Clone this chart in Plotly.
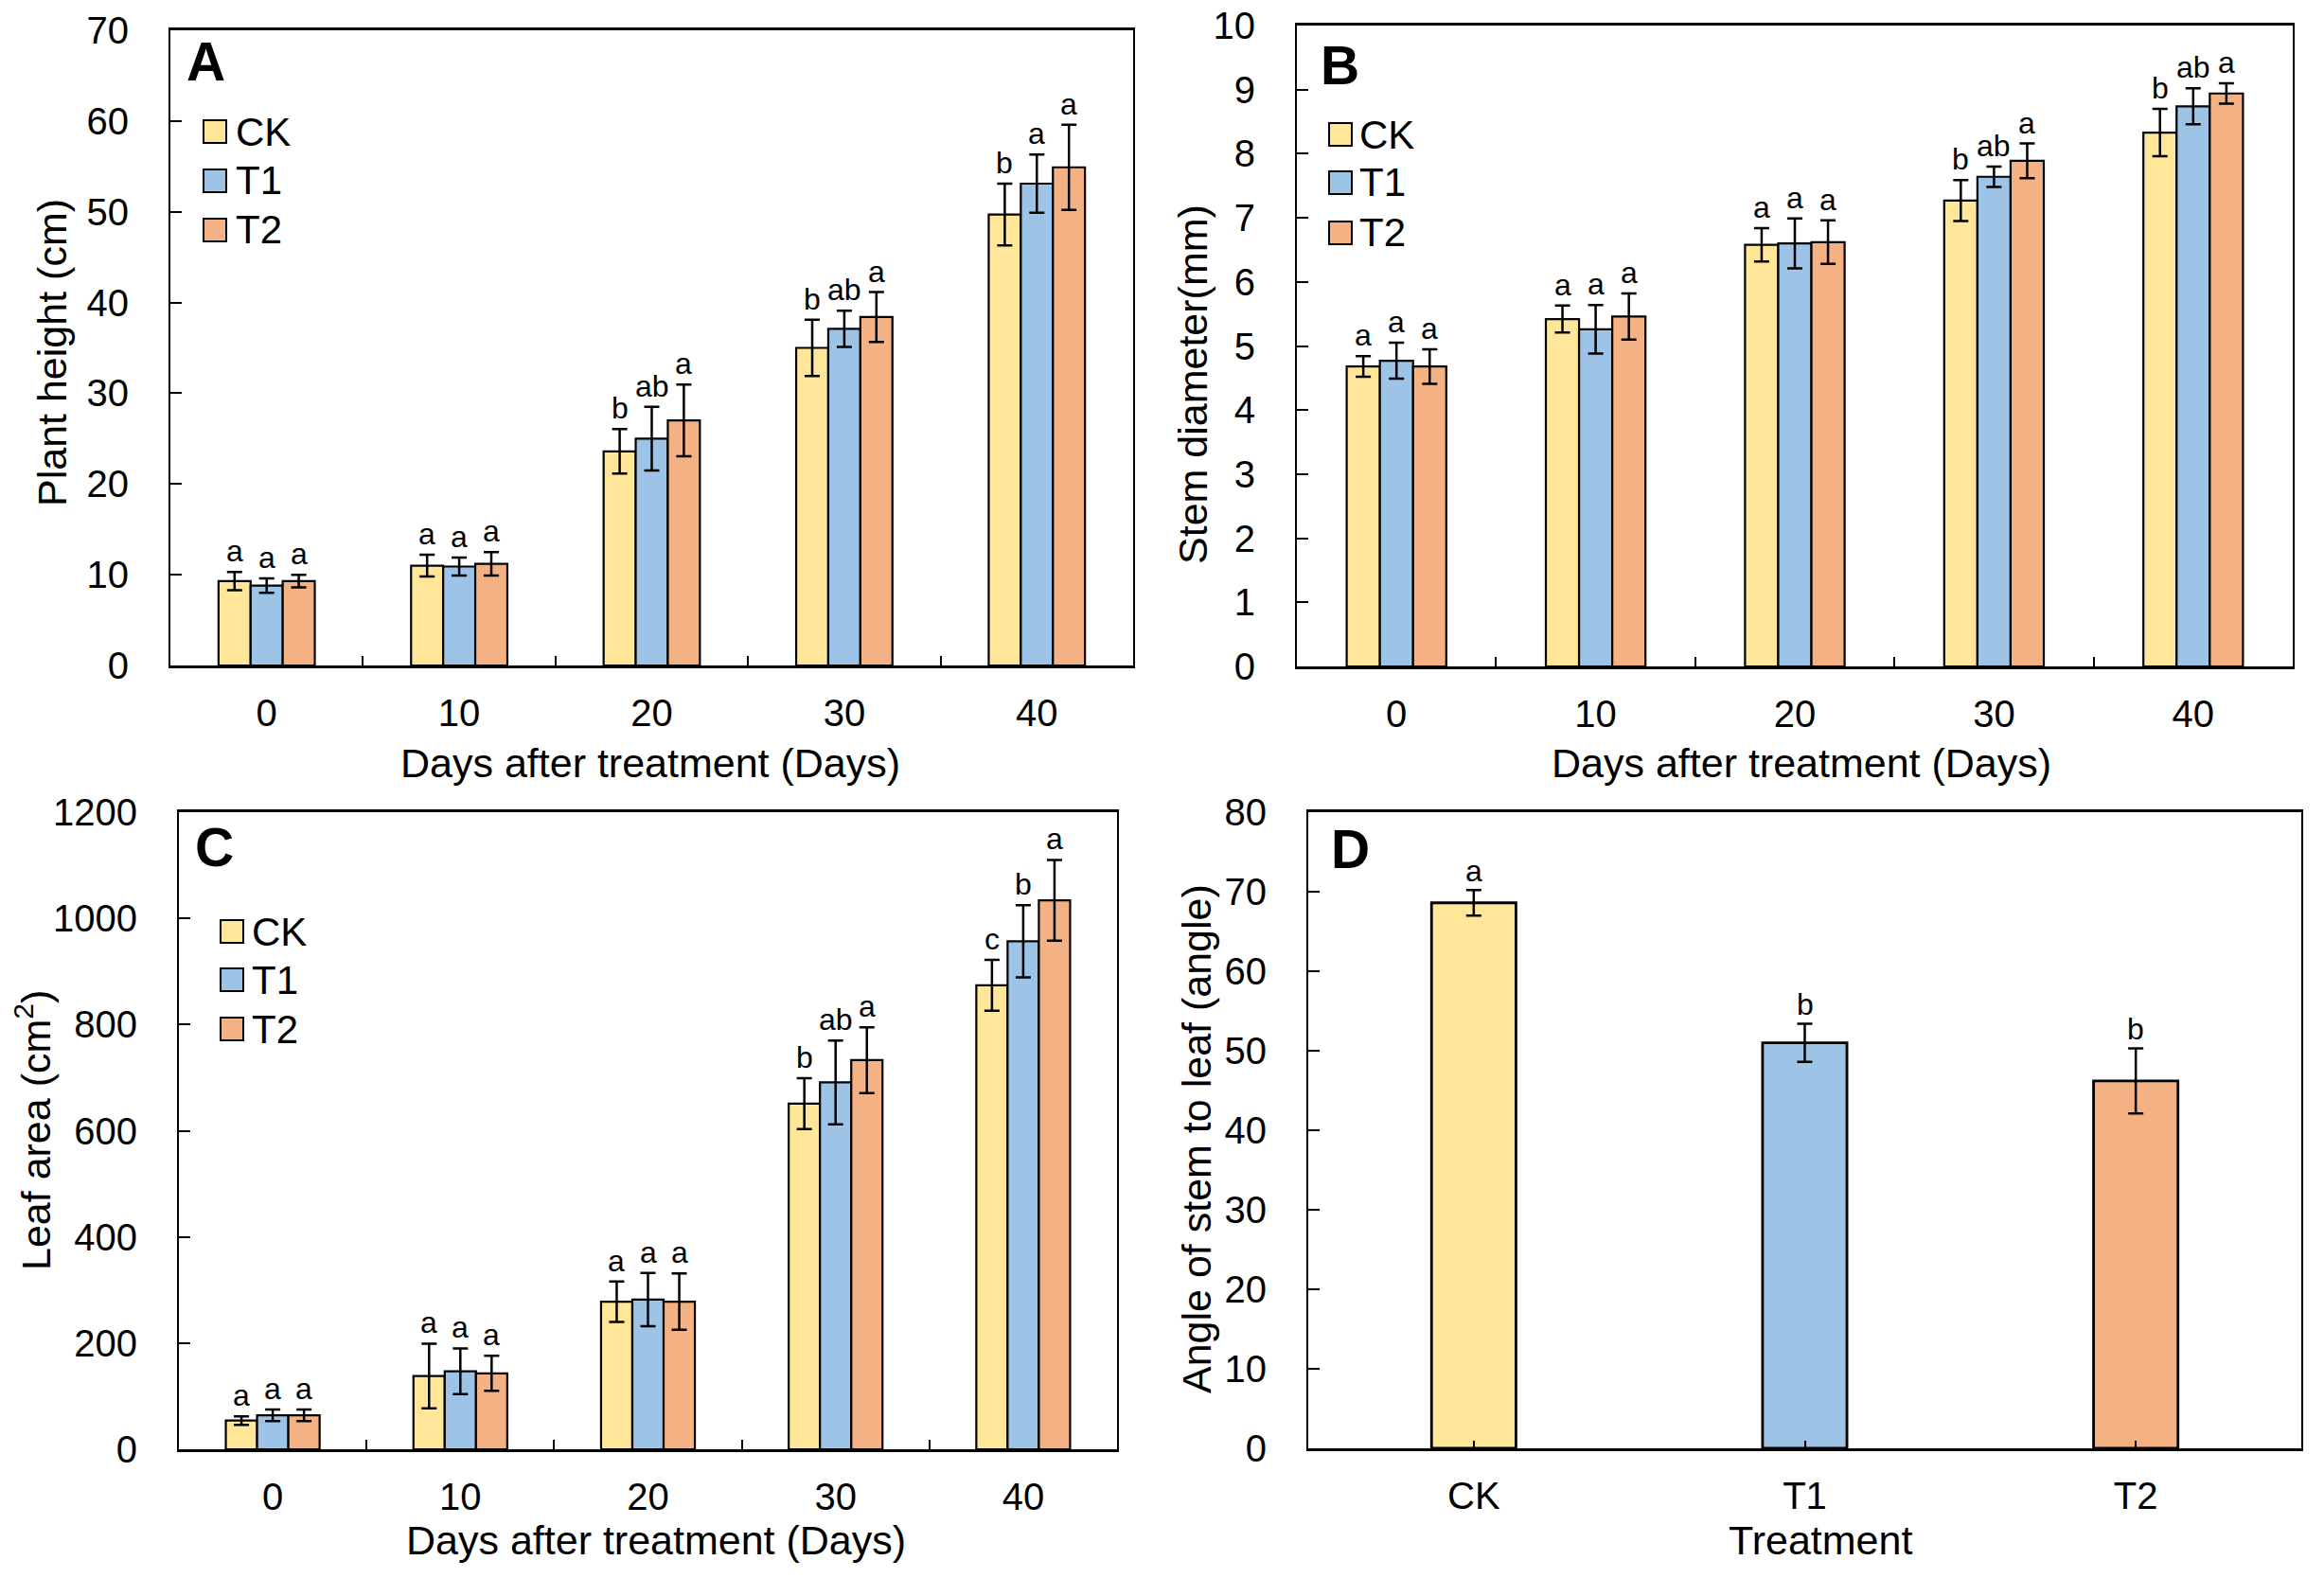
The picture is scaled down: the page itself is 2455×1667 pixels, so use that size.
import plotly.graph_objects as go

W, H = 2455, 1667

# ---------------- data ----------------
days = ["0", "10", "20", "30", "40"]
treatments = ["CK", "T1", "T2"]
colors = ["#FFE699", "#9DC3E6", "#F4B183"]

height_ck = [9.3, 11.0, 23.6, 35.0, 49.7]
height_t1 = [8.8, 10.9, 25.0, 37.1, 53.1]
height_t2 = [9.3, 11.2, 27.0, 38.4, 54.9]
height_err_ck = [1.0, 1.2, 2.45, 3.1, 3.4]
height_err_t1 = [0.8, 1.0, 3.5, 2.0, 3.2]
height_err_t2 = [0.7, 1.3, 3.95, 2.75, 4.7]
height_sig_ck = ["a", "a", "b", "b", "b"]
height_sig_t1 = ["a", "a", "ab", "ab", "a"]
height_sig_t2 = ["a", "a", "a", "a", "a"]

stem_ck = [4.68, 5.42, 6.58, 7.27, 8.33]
stem_t1 = [4.77, 5.26, 6.60, 7.64, 8.74]
stem_t2 = [4.68, 5.46, 6.62, 7.89, 8.94]
stem_err_ck = [0.16, 0.21, 0.26, 0.32, 0.37]
stem_err_t1 = [0.28, 0.38, 0.39, 0.16, 0.28]
stem_err_t2 = [0.27, 0.36, 0.34, 0.27, 0.16]
stem_sig_ck = ["a", "a", "a", "b", "b"]
stem_sig_t1 = ["a", "a", "a", "ab", "ab"]
stem_sig_t2 = ["a", "a", "a", "a", "a"]

leaf_ck = [54, 138, 278, 651, 874]
leaf_t1 = [64, 147, 282, 691, 957]
leaf_t2 = [64, 143, 278, 733, 1034]
leaf_err_ck = [8, 61, 38, 48, 48]
leaf_err_t1 = [11, 43, 50, 79, 68]
leaf_err_t2 = [11, 33, 53, 62, 76]
leaf_sig_ck = ["a", "a", "a", "b", "c"]
leaf_sig_t1 = ["a", "a", "a", "ab", "b"]
leaf_sig_t2 = ["a", "a", "a", "a", "a"]

angle_vals = [68.6, 51.0, 46.2]
angle_err = [1.6, 2.4, 4.1]
angle_sig = ["a", "b", "b"]

# ---------------- layout geometry (pixels) ----------------
FONT = "Liberation Sans, Arial, sans-serif"
BARGAP = 0.5

panels = {
    # name: (x0, x1, ytop, ybottom) in pixels
    "A": (180, 1197, 32, 703),
    "B": (1370, 2422, 27, 704),
    "C": (189, 1180, 858, 1531),
    "D": (1382, 2431, 858, 1530),
}


def px(x):
    return x / W


def py(y):
    return 1 - y / H


fig = go.Figure()
annotations = []
shapes = []

grouped = [
    ("A", "x", "y", [height_ck, height_t1, height_t2],
     [height_err_ck, height_err_t1, height_err_t2],
     [height_sig_ck, height_sig_t1, height_sig_t2]),
    ("B", "x2", "y2", [stem_ck, stem_t1, stem_t2],
     [stem_err_ck, stem_err_t1, stem_err_t2],
     [stem_sig_ck, stem_sig_t1, stem_sig_t2]),
    ("C", "x3", "y3", [leaf_ck, leaf_t1, leaf_t2],
     [leaf_err_ck, leaf_err_t1, leaf_err_t2],
     [leaf_sig_ck, leaf_sig_t1, leaf_sig_t2]),
]

for name, xa, ya, vals, errs, sigs in grouped:
    x0, x1, yt, yb = panels[name]
    barpx = (x1 - x0) / len(days) * (1 - BARGAP) / 3
    for i, t in enumerate(treatments):
        fig.add_trace(go.Bar(
            x=days, y=vals[i], name=t, xaxis=xa, yaxis=ya, showlegend=False,
            marker=dict(color=colors[i], line=dict(color="black", width=2.2)),
            error_y=dict(type="data", array=errs[i], color="black",
                         thickness=2.5, width=8),
        ))
        for j in range(len(days)):
            annotations.append(dict(
                x=j, y=vals[i][j] + errs[i][j], xref=xa, yref=ya,
                text=sigs[i][j], showarrow=False, xanchor="center",
                yanchor="bottom", xshift=(i - 1) * barpx, yshift=2,
                font=dict(family=FONT, size=32, color="black")))

# Panel D
fig.add_trace(go.Bar(
    x=treatments, y=angle_vals, xaxis="x4", yaxis="y4", showlegend=False,
    width=0.255,
    marker=dict(color=colors, line=dict(color="black", width=2.8)),
    error_y=dict(type="data", array=angle_err, color="black",
                 thickness=2.5, width=8),
))
for j in range(len(treatments)):
    annotations.append(dict(
        x=j, y=angle_vals[j] + angle_err[j], xref="x4", yref="y4",
        text=angle_sig[j], showarrow=False, xanchor="center",
        yanchor="bottom", yshift=0,
        font=dict(family=FONT, size=32, color="black")))

# ---------------- axes ----------------
def xaxis(name, anchor):
    x0, x1, yt, yb = panels[name]
    d = dict(domain=[px(x0), px(x1)], anchor=anchor, type="category",
             range=[-0.5, 2.5 if name == "D" else 4.5], automargin=False,
             showline=True, linecolor="black", linewidth=2.8, mirror=True,
             ticks="inside", ticklen=10 if name != "D" else 8, tickwidth=2,
             tickcolor="black", showgrid=False, zeroline=False,
             tickfont=dict(family=FONT, size=40, color="black"),
             ticklabelstandoff=13)
    if name != "D":
        d["tickson"] = "boundaries"
    return d


def yaxis(name, anchor, rng, dtick):
    x0, x1, yt, yb = panels[name]
    return dict(domain=[py(yb), py(yt)], anchor=anchor, range=rng,
                dtick=dtick, tick0=0, automargin=False,
                showline=True, linecolor="black", linewidth=2, mirror=True,
                ticks="inside", ticklen=12, tickwidth=2, tickcolor="black",
                showgrid=False, zeroline=False,
                tickfont=dict(family=FONT, size=40, color="black"),
                ticklabelstandoff=34)


# ---------------- titles, panel letters, legends ----------------
def txt(x, y, s, size, xanchor="center", yanchor="middle", angle=0, bold=False):
    annotations.append(dict(
        x=px(x), y=py(y), xref="paper", yref="paper", text=s,
        showarrow=False, xanchor=xanchor, yanchor=yanchor, textangle=angle,
        font=dict(family=FONT, size=size, color="black",
                  weight="bold" if bold else "normal")))


x_titles = [("Days after treatment (Days)", 687, 806),
            ("Days after treatment (Days)", 1903, 806),
            ("Days after treatment (Days)", 693, 1627),
            ("Treatment", 1923, 1627)]
for s, x, y in x_titles:
    txt(x, y, s, 43)

y_titles = [("Plant height (cm)", 55, 373),
            ("Stem diameter(mm)", 1260, 406),
            ("Leaf area (cm<sup>2</sup>)", 35, 1194),
            ("Angle of stem to leaf (angle)", 1264, 1203)]
for s, x, y in y_titles:
    txt(x, y, s, 43, angle=-90)

letters = [("A", 198, 65), ("B", 1396, 69), ("C", 207, 895), ("D", 1407, 897)]
for s, x, y in letters:
    txt(x - 3, y, s, 57, xanchor="left", bold=True)

legends = [  # square x0, square x1, text x, centers y
    (215, 239, 247, [139, 191, 243]),
    (1404, 1428, 1434, [142, 193, 246]),
    (233, 257, 264, [984, 1035, 1087]),
]
for sx0, sx1, tx, cys in legends:
    for i, t in enumerate(treatments):
        cy = cys[i]
        shapes.append(dict(type="rect", xref="paper", yref="paper",
                           x0=px(sx0), x1=px(sx1), y0=py(cy + 12), y1=py(cy - 12),
                           fillcolor=colors[i], line=dict(color="black", width=2)))
        txt(tx, cy, t, 42, xanchor="left")

fig.update_layout(
    width=W, height=H,
    margin=dict(l=0, r=0, t=0, b=0, autoexpand=False),
    paper_bgcolor="white", plot_bgcolor="white",
    barmode="group", bargap=BARGAP, bargroupgap=0,
    showlegend=False,
    xaxis=xaxis("A", "y"), yaxis=yaxis("A", "x", [0, 70], 10),
    xaxis2=xaxis("B", "y2"), yaxis2=yaxis("B", "x2", [0, 10], 1),
    xaxis3=xaxis("C", "y3"), yaxis3=yaxis("C", "x3", [0, 1200], 200),
    xaxis4=xaxis("D", "y4"), yaxis4=yaxis("D", "x4", [0, 80], 10),
    annotations=annotations, shapes=shapes,
    font=dict(family=FONT, color="black"),
)

fig.write_html("out.html", config={"displayModeBar": False},
               post_script="document.body.style.margin='0px';")
